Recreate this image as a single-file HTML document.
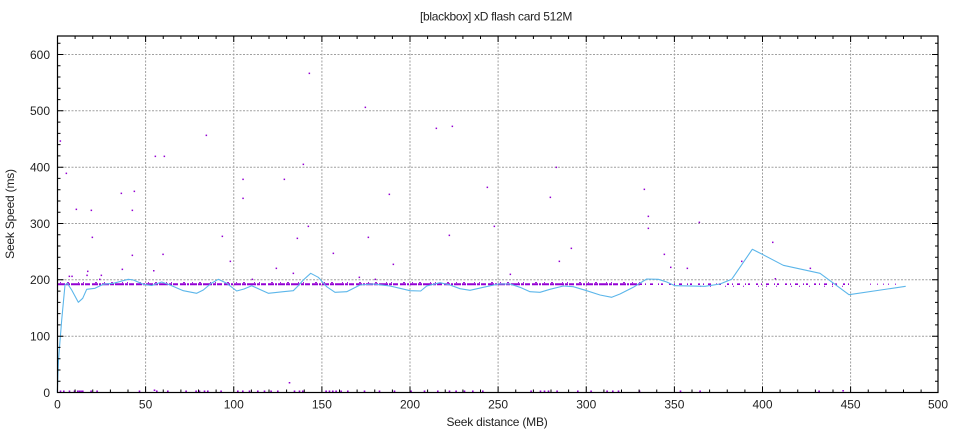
<!DOCTYPE html>
<html>
<head>
<meta charset="utf-8">
<style>
html,body{margin:0;padding:0;background:#fff;}
svg{display:block;}
text{font-family:"Liberation Sans",sans-serif;fill:#222;}
</style>
</head>
<body>
<svg width="960" height="432" viewBox="0 0 960 432" xmlns="http://www.w3.org/2000/svg">
<rect x="0" y="0" width="960" height="432" fill="#fff"/>
<g stroke="#a0a0a0" stroke-width="1" stroke-dasharray="2,1.5" fill="none">
<path d="M145.6 36V392.5M233.75 36V392.5M321.9 36V392.5M410 36V392.5M498.1 36V392.5M586.25 36V392.5M674.4 36V392.5M762.5 36V392.5M850.6 36V392.5"/>
<path d="M57.5 336.2H938M57.5 279.8H938M57.5 223.5H938M57.5 167.2H938M57.5 110.8H938M57.5 54.5H938"/>
</g>
<g stroke="#9400d3" fill="none">
<path d="M58 284.2H640" stroke-width="2" stroke-dasharray="7,1,4,1,9,1,3,1,5,2,6,1,2,1"/>
<path d="M60 282.6H640" stroke-width="1" stroke-dasharray="1,6,2,9,1,4,1,11,2,7"/>
<path d="M640 284.2H850" stroke-width="1.6" stroke-dasharray="2,3,1,4,3,5,1,2,2,6"/>
<path d="M700 286.3H850" stroke-width="1" stroke-dasharray="1,9,1,14,1,7"/>
<path d="M870 284.2H896" stroke-width="1.2" stroke-dasharray="1,6,1,5,1,4"/>
</g>
<g fill="#9400d3">
<rect x="59.6" y="140.3" width="1.5" height="1.5"/>
<rect x="65.6" y="172.6" width="1.5" height="1.5"/>
<rect x="75.6" y="208.6" width="1.5" height="1.5"/>
<rect x="68.6" y="275.6" width="1.5" height="1.5"/>
<rect x="71.3" y="275.6" width="1.5" height="1.5"/>
<rect x="87" y="270.6" width="1.5" height="1.5"/>
<rect x="86.3" y="274.6" width="1.5" height="1.5"/>
<rect x="90.6" y="209.6" width="1.5" height="1.5"/>
<rect x="91.6" y="236.6" width="1.5" height="1.5"/>
<rect x="100.6" y="274.6" width="1.5" height="1.5"/>
<rect x="99" y="278.6" width="1.5" height="1.5"/>
<rect x="120.6" y="192.6" width="1.5" height="1.5"/>
<rect x="121.6" y="268.6" width="1.5" height="1.5"/>
<rect x="131.6" y="209.6" width="1.5" height="1.5"/>
<rect x="133.6" y="190.6" width="1.5" height="1.5"/>
<rect x="131.6" y="254.6" width="1.5" height="1.5"/>
<rect x="154.6" y="155.6" width="1.5" height="1.5"/>
<rect x="163.6" y="155.6" width="1.5" height="1.5"/>
<rect x="162.3" y="253.6" width="1.5" height="1.5"/>
<rect x="205.6" y="134.6" width="1.5" height="1.5"/>
<rect x="221.6" y="235.6" width="1.5" height="1.5"/>
<rect x="229.6" y="260.6" width="1.5" height="1.5"/>
<rect x="251.6" y="278.6" width="1.5" height="1.5"/>
<rect x="242.3" y="178.6" width="1.5" height="1.5"/>
<rect x="242.3" y="197.6" width="1.5" height="1.5"/>
<rect x="275.6" y="267.6" width="1.5" height="1.5"/>
<rect x="283.6" y="178.6" width="1.5" height="1.5"/>
<rect x="292.6" y="272.6" width="1.5" height="1.5"/>
<rect x="296.6" y="237.6" width="1.5" height="1.5"/>
<rect x="302.6" y="163.6" width="1.5" height="1.5"/>
<rect x="307.6" y="225.6" width="1.5" height="1.5"/>
<rect x="308.6" y="72.6" width="1.5" height="1.5"/>
<rect x="332.6" y="252.6" width="1.5" height="1.5"/>
<rect x="364.6" y="106.6" width="1.5" height="1.5"/>
<rect x="388.6" y="193.6" width="1.5" height="1.5"/>
<rect x="367.6" y="236.6" width="1.5" height="1.5"/>
<rect x="392.6" y="263.6" width="1.5" height="1.5"/>
<rect x="358.6" y="276.6" width="1.5" height="1.5"/>
<rect x="374.6" y="278.6" width="1.5" height="1.5"/>
<rect x="435.6" y="127.6" width="1.5" height="1.5"/>
<rect x="451.6" y="125.6" width="1.5" height="1.5"/>
<rect x="448.6" y="234.6" width="1.5" height="1.5"/>
<rect x="486.6" y="186.6" width="1.5" height="1.5"/>
<rect x="493.6" y="225.6" width="1.5" height="1.5"/>
<rect x="509.6" y="273.6" width="1.5" height="1.5"/>
<rect x="549.6" y="196.6" width="1.5" height="1.5"/>
<rect x="555.6" y="166.6" width="1.5" height="1.5"/>
<rect x="570.6" y="247.6" width="1.5" height="1.5"/>
<rect x="558.6" y="260.6" width="1.5" height="1.5"/>
<rect x="643.6" y="188.6" width="1.5" height="1.5"/>
<rect x="647.6" y="215.6" width="1.5" height="1.5"/>
<rect x="647.6" y="227.6" width="1.5" height="1.5"/>
<rect x="698.6" y="221.6" width="1.5" height="1.5"/>
<rect x="663.6" y="253.6" width="1.5" height="1.5"/>
<rect x="670" y="266.6" width="1.5" height="1.5"/>
<rect x="686.6" y="267.6" width="1.5" height="1.5"/>
<rect x="741" y="260.6" width="1.5" height="1.5"/>
<rect x="772" y="241.6" width="1.5" height="1.5"/>
<rect x="809.6" y="267.6" width="1.5" height="1.5"/>
<rect x="774.6" y="278" width="1.5" height="1.5"/>
<rect x="153" y="270" width="1.5" height="1.5"/>
<rect x="59.7" y="390.5" width="1.6" height="2"/>
<rect x="63" y="390.5" width="1.6" height="2"/>
<rect x="68.7" y="390.5" width="1.6" height="2"/>
<rect x="73.7" y="390.5" width="1.6" height="2"/>
<rect x="77" y="390.5" width="1.6" height="2"/>
<rect x="78.7" y="390.5" width="1.6" height="2"/>
<rect x="80.3" y="390.5" width="1.6" height="2"/>
<rect x="82" y="390.5" width="1.6" height="2"/>
<rect x="90.3" y="390.5" width="1.6" height="2"/>
<rect x="96.3" y="390.5" width="1.6" height="2"/>
<rect x="138.7" y="390.5" width="1.6" height="2"/>
<rect x="153.7" y="389.5" width="1.6" height="1.5"/>
<rect x="156" y="390.5" width="1.6" height="2"/>
<rect x="167" y="390.5" width="1.6" height="2"/>
<rect x="185.3" y="390.5" width="1.6" height="2"/>
<rect x="195.3" y="390.5" width="1.6" height="2"/>
<rect x="198.7" y="390.5" width="1.6" height="2"/>
<rect x="203.7" y="390.5" width="1.6" height="2"/>
<rect x="207" y="390.5" width="1.6" height="2"/>
<rect x="220.3" y="390.5" width="1.6" height="2"/>
<rect x="237" y="390.5" width="1.6" height="2"/>
<rect x="242" y="390.5" width="1.6" height="2"/>
<rect x="248.7" y="390.5" width="1.6" height="2"/>
<rect x="257" y="390.5" width="1.6" height="2"/>
<rect x="263.7" y="390.5" width="1.6" height="2"/>
<rect x="270.3" y="390.5" width="1.6" height="2"/>
<rect x="277" y="390.5" width="1.6" height="2"/>
<rect x="288.7" y="382" width="1.6" height="1.5"/>
<rect x="293.7" y="390.5" width="1.6" height="2"/>
<rect x="298.7" y="390.5" width="1.6" height="2"/>
<rect x="302" y="390.5" width="1.6" height="2"/>
<rect x="325.3" y="390.5" width="1.6" height="2"/>
<rect x="328.7" y="390.5" width="1.6" height="2"/>
<rect x="332" y="390.5" width="1.6" height="2"/>
<rect x="335.3" y="390.5" width="1.6" height="2"/>
<rect x="340.3" y="390.5" width="1.6" height="2"/>
<rect x="347" y="390.5" width="1.6" height="2"/>
<rect x="363.7" y="390.5" width="1.6" height="2"/>
<rect x="378.7" y="390.5" width="1.6" height="2"/>
<rect x="393.7" y="390.5" width="1.6" height="2"/>
<rect x="410.3" y="390.5" width="1.6" height="2"/>
<rect x="423.7" y="390.5" width="1.6" height="2"/>
<rect x="437" y="390.5" width="1.6" height="2"/>
<rect x="448.7" y="390.5" width="1.6" height="2"/>
<rect x="455.3" y="390.5" width="1.6" height="2"/>
<rect x="463.7" y="390.5" width="1.6" height="2"/>
<rect x="472" y="390.5" width="1.6" height="2"/>
<rect x="482" y="390.5" width="1.6" height="2"/>
<rect x="530.3" y="390.5" width="1.6" height="2"/>
<rect x="539.7" y="390.5" width="1.6" height="2"/>
<rect x="543.7" y="390.5" width="1.6" height="2"/>
<rect x="547.7" y="390.5" width="1.6" height="2"/>
<rect x="556.3" y="390.5" width="1.6" height="2"/>
<rect x="577" y="390.5" width="1.6" height="2"/>
<rect x="590.3" y="390.5" width="1.6" height="2"/>
<rect x="606.3" y="390.5" width="1.6" height="2"/>
<rect x="612" y="390.5" width="1.6" height="2"/>
<rect x="617.7" y="390.5" width="1.6" height="2"/>
<rect x="638.7" y="390.5" width="1.6" height="2"/>
<rect x="679.7" y="390.5" width="1.6" height="2"/>
<rect x="699.3" y="390.5" width="1.6" height="2"/>
<rect x="818.3" y="390.5" width="1.6" height="2"/>
<rect x="842.3" y="390" width="1.6" height="1.5"/>
</g>
<polyline fill="none" stroke="#5cb6ea" stroke-width="1.1" stroke-linejoin="round" points="57.3,392.5 58.5,360 61.7,320 65,285 67.3,283.3 71.7,290 78.3,302.3 82.7,298.3 86.7,289.3 95,288.3 103.3,284.3 113.3,283.3 122,281 128.3,279.3 133.3,280 143.3,284.3 151.7,285.5 161.7,282 170,285 183.3,290.7 196.7,293.3 203.3,290 211,283.5 218.3,279.3 226.7,283.3 236.7,291 244,289 251.7,285.7 260,289.5 268.3,293.3 283.3,291.7 293.3,290.7 298,286 303.3,280 310.7,273.3 318.3,277.3 326.7,286.7 335,292.3 346.7,291.7 360,285 373.3,284 390,286 400,288.3 410,290.7 420.7,291 426.7,286 440,282.7 450,285 460,288.7 470,290.3 483.3,287.3 498.3,284 510,284 520,287.3 530,291.7 540,292.3 550,289.3 563.3,286 573.3,286.7 586.7,290.7 600,295 611.7,297.3 620,294 633.3,287.3 646.7,279 658.3,279.3 666.7,282 675,285.7 705,286.3 720,284 731.7,279.3 752.3,249.3 761.7,254 783.3,265.3 820,273.3 849,294.7 905.7,286.3"/>
<g stroke="#000" stroke-width="1" fill="none">
<path d="M75.1 392.5v-3M92.75 392.5v-3M110.4 392.5v-3M128 392.5v-3M163.25 392.5v-3M180.9 392.5v-3M198.5 392.5v-3M216.1 392.5v-3M251.4 392.5v-3M269 392.5v-3M286.6 392.5v-3M304.25 392.5v-3M339.5 392.5v-3M357.1 392.5v-3M374.75 392.5v-3M392.4 392.5v-3M427.6 392.5v-3M445.25 392.5v-3M462.9 392.5v-3M480.5 392.5v-3M515.75 392.5v-3M533.4 392.5v-3M551 392.5v-3M568.6 392.5v-3M603.9 392.5v-3M621.5 392.5v-3M639.1 392.5v-3M656.75 392.5v-3M692 392.5v-3M709.6 392.5v-3M727.25 392.5v-3M744.9 392.5v-3M780.1 392.5v-3M797.75 392.5v-3M815.4 392.5v-3M833 392.5v-3M868.25 392.5v-3M885.9 392.5v-3M903.5 392.5v-3M921.1 392.5v-3"/>
<path d="M75.1 36v3M92.75 36v3M110.4 36v3M128 36v3M163.25 36v3M180.9 36v3M198.5 36v3M216.1 36v3M251.4 36v3M269 36v3M286.6 36v3M304.25 36v3M339.5 36v3M357.1 36v3M374.75 36v3M392.4 36v3M427.6 36v3M445.25 36v3M462.9 36v3M480.5 36v3M515.75 36v3M533.4 36v3M551 36v3M568.6 36v3M603.9 36v3M621.5 36v3M639.1 36v3M656.75 36v3M692 36v3M709.6 36v3M727.25 36v3M744.9 36v3M780.1 36v3M797.75 36v3M815.4 36v3M833 36v3M868.25 36v3M885.9 36v3M903.5 36v3M921.1 36v3"/>
<path d="M145.6 392.5v-6M233.75 392.5v-6M321.9 392.5v-6M410 392.5v-6M498.1 392.5v-6M586.25 392.5v-6M674.4 392.5v-6M762.5 392.5v-6M850.6 392.5v-6M145.6 36v6M233.75 36v6M321.9 36v6M410 36v6M498.1 36v6M586.25 36v6M674.4 36v6M762.5 36v6M850.6 36v6"/>
<path d="M57.5 381.2h3M57.5 370h3M57.5 358.7h3M57.5 347.4h3M57.5 324.9h3M57.5 313.6h3M57.5 302.4h3M57.5 291.1h3M57.5 268.6h3M57.5 257.3h3M57.5 246h3M57.5 234.8h3M57.5 212.2h3M57.5 201h3M57.5 189.7h3M57.5 178.4h3M57.5 155.9h3M57.5 144.6h3M57.5 133.4h3M57.5 122.1h3M57.5 99.6h3M57.5 88.3h3M57.5 77h3M57.5 65.8h3M57.5 43.2h3"/>
<path d="M938 381.2h-3M938 370h-3M938 358.7h-3M938 347.4h-3M938 324.9h-3M938 313.6h-3M938 302.4h-3M938 291.1h-3M938 268.6h-3M938 257.3h-3M938 246h-3M938 234.8h-3M938 212.2h-3M938 201h-3M938 189.7h-3M938 178.4h-3M938 155.9h-3M938 144.6h-3M938 133.4h-3M938 122.1h-3M938 99.6h-3M938 88.3h-3M938 77h-3M938 65.8h-3M938 43.2h-3"/>
<path d="M57.5 336.2h6M57.5 279.8h6M57.5 223.5h6M57.5 167.2h6M57.5 110.8h6M57.5 54.5h6M938 336.2h-6M938 279.8h-6M938 223.5h-6M938 167.2h-6M938 110.8h-6M938 54.5h-6"/>
</g>
<rect x="57.5" y="36" width="880.5" height="356.5" fill="none" stroke="#000" stroke-width="1.2"/>
<g font-size="12" text-anchor="middle">
<text x="57.5" y="408.5">0</text>
<text x="145.6" y="408.5">50</text>
<text x="233.75" y="408.5">100</text>
<text x="321.9" y="408.5">150</text>
<text x="410" y="408.5">200</text>
<text x="498.1" y="408.5">250</text>
<text x="586.25" y="408.5">300</text>
<text x="674.4" y="408.5">350</text>
<text x="762.5" y="408.5">400</text>
<text x="850.6" y="408.5">450</text>
<text x="938" y="408.5">500</text>
</g>
<g font-size="12" text-anchor="end">
<text x="50" y="396.8">0</text>
<text x="50" y="340.5">100</text>
<text x="50" y="284.1">200</text>
<text x="50" y="227.8">300</text>
<text x="50" y="171.5">400</text>
<text x="50" y="115.1">500</text>
<text x="50" y="58.8">600</text>
</g>
<text x="496" y="20.5" font-size="12" text-anchor="middle" letter-spacing="-0.3">[blackbox] xD flash card 512M</text>
<text x="497" y="426" font-size="12" text-anchor="middle" letter-spacing="-0.2">Seek distance (MB)</text>
<text transform="translate(14,214) rotate(-90)" font-size="12" text-anchor="middle" letter-spacing="-0.2">Seek Speed (ms)</text>
</svg>
</body>
</html>
